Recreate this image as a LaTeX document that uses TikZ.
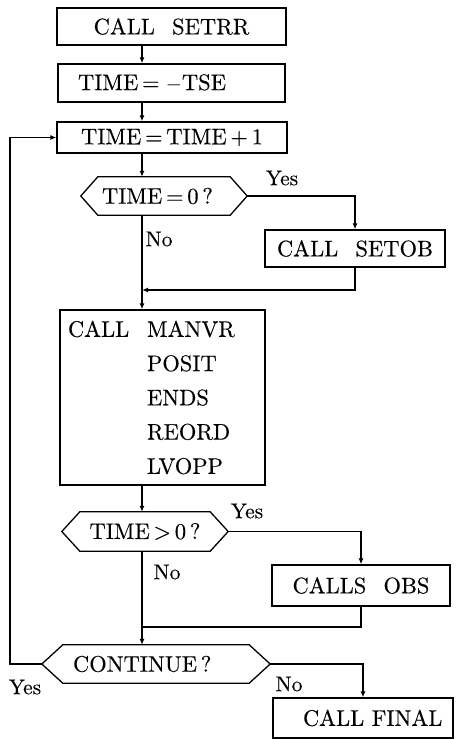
\documentclass[tikz,border=0pt]{standalone}
\usepackage{fontspec}
\setmainfont{lmroman10-regular.otf}[WordSpace=2.3, FakeBold=0.3]
\usetikzlibrary{arrows.meta,calc}
\tikzset{
  box/.style={draw, line width=1.3pt, inner sep=0pt, font=\fontsize{22.5}{27}\selectfont},
  hexnode/.style={inner sep=0pt, font=\fontsize{22.5}{27}\selectfont},
  lbl/.style={inner sep=0pt, font=\fontsize{21.5}{26}\selectfont},
  arr/.style={line width=1.3pt, -{Latex[length=6pt,width=5pt]}},
  ln/.style={line width=1.3pt}
}
\newcommand{\hexa}[2]{\draw[ln] (#1.west) -- ($(#1.north west)+(#2,0)$) -- ($(#1.north east)+(-#2,0)$) -- (#1.east) -- ($(#1.south east)+(-#2,0)$) -- ($(#1.south west)+(#2,0)$) -- cycle;}
\begin{document}
\begin{tikzpicture}[x=1pt,y=-1pt]
\useasboundingbox (0,0) rectangle (458,739);
% boxes
\node[box, minimum width=229pt, minimum height=37pt] (setrr) at (171.5,26.5) {CALL SETRR};
\node[box, minimum height=38pt, text width=187pt, inner xsep=20pt, align=left] (tse) at (171.5,83) {TIME\,=\;$-$TSE};
\node[box, minimum width=230pt, minimum height=31pt] (inc) at (172,137.5) {TIME\,=\,TIME\,+\,1};
\node[hexnode, minimum height=38pt, text width=124pt, inner xsep=21pt, align=left] (d1) at (164,196) {TIME\,=\,0\,?};
\hexa{d1}{17}
\node[box, minimum width=180pt, minimum height=37pt] (setob) at (355,248.5) {CALL SETOB};
\node[box, minimum height=175pt, text width=189pt, inner xsep=8pt, align=left, font=\fontsize{22.5}{34.25}\selectfont] (manvr) at (162.5,397.5)
  {\makebox[79pt][l]{CALL}MANVR\\\hspace*{79pt}POSIT\\\hspace*{79pt}ENDS\\\hspace*{79pt}REORD\\\hspace*{79pt}LVOPP};
\node[hexnode, minimum width=166pt, minimum height=39pt] (d2) at (145,531.5) {TIME\,>\,0\,?};
\hexa{d2}{18}
\node[box, minimum width=178pt, minimum height=41pt] (obs) at (361,585.5) {CALLS OBS};
\node[hexnode, minimum height=38pt, text width=166pt, inner xsep=31pt, align=left] (d3) at (156,664) {CONTINUE\,?};
\hexa{d3}{21}
\node[box, minimum height=40pt, text width=120pt, inner xsep=30pt, align=left] (final) at (363,718) {\makebox[120pt][l]{CALL FINAL}};
% labels
\node[lbl] (y1) at (282,178) {Yes};
\node[lbl] (n1) at (159,239) {No};
\node[lbl] (y2) at (247,511) {Yes};
\node[lbl] (n2) at (167,572) {No};
\node[lbl] (y3) at (25,687) {Yes};
\node[lbl] (n3) at (289,684) {No};
% coordinates
\coordinate (col) at (142,0);
\coordinate (m1) at (142,290);
\coordinate (m2) at (142,627);
\coordinate (lp) at (10,0);
% connectors
\draw[arr] (setrr.south -| col) -- (tse.north -| col);
\draw[arr] (tse.south -| col) -- (inc.north -| col);
\draw[arr] (inc.south -| col) -- (d1.north -| col);
\draw[arr] (d1.east) -| (setob.north);
\draw[arr] (setob.south) |- (m1);
\draw[arr] (d1.south -| col) -- (manvr.north -| col);
\draw[arr] (manvr.south -| col) -- (d2.north -| col);
\draw[arr] (d2.east) -| (obs.north);
\draw[ln] (obs.south) |- (m2);
\draw[arr] (d2.south -| col) -- (d3.north -| col);
\draw[arr] (d3.east) -| (final.north);
\draw[arr] (d3.west) -- (d3.west -| lp) |- (inc.west);
\end{tikzpicture}
\end{document}
